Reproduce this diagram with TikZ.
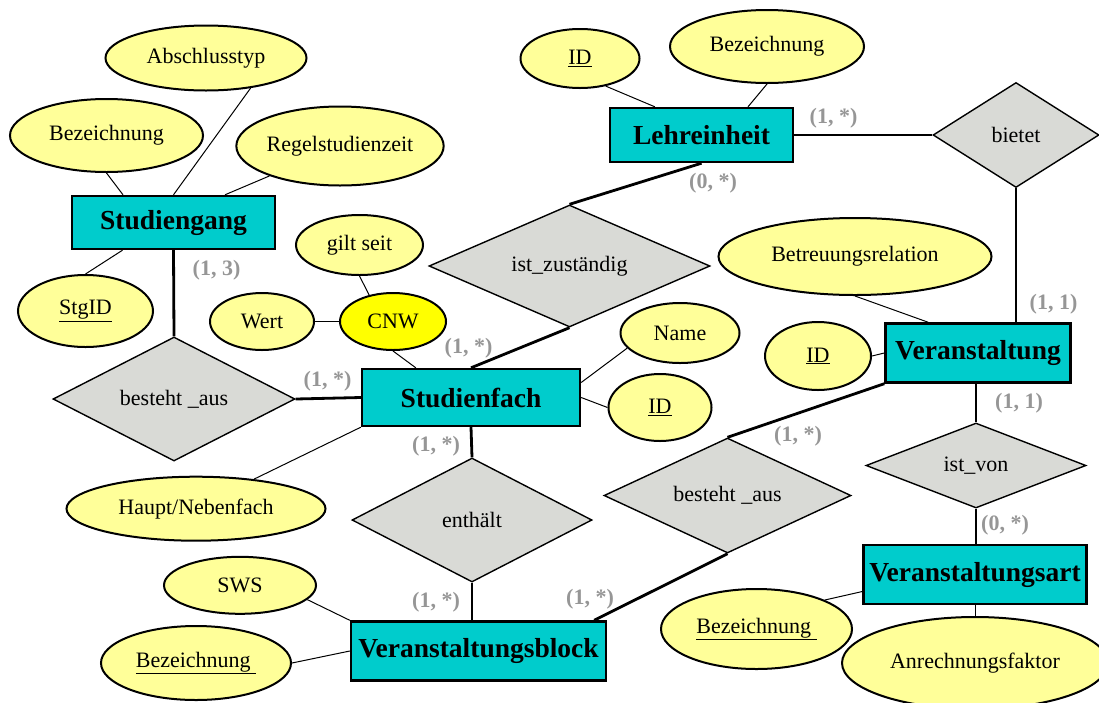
\documentclass[tikz,border=0pt]{standalone}
\usepackage{fontspec}
\setmainfont{Liberation Serif}
\usetikzlibrary{shapes.geometric,calc}
\definecolor{entfill}{RGB}{0,204,204}
\definecolor{attfill}{RGB}{255,255,153}
\definecolor{keyfill}{RGB}{255,255,0}
\definecolor{relfill}{RGB}{217,218,214}
\definecolor{cardgray}{RGB}{150,150,150}

\begin{document}
\begin{tikzpicture}[x=1pt,y=-1pt,
  entity/.style={draw=black, line width=2.4pt, fill=entfill, rectangle, inner sep=0pt,
    font=\fontsize{27.5}{30}\selectfont\bfseries},
  attr/.style={draw=black, line width=2pt, fill=attfill, ellipse, inner sep=0pt,
    font=\fontsize{22}{26}\selectfont},
  rel/.style={draw=black, line width=1.4pt, fill=relfill, diamond, aspect=2, inner sep=0pt,
    font=\fontsize{22}{26}\selectfont},
  card/.style={text=cardgray, font=\fontsize{22}{25}\selectfont\bfseries, inner sep=0pt},
  link/.style={line width=1pt},
  rlink/.style={line width=2.8pt},
]
\path[use as bounding box] (0,0) rectangle (1099,702);
\clip (0,0) rectangle (1099,702);

% entities
\node[entity, minimum width=203pt, minimum height=53pt] (stg)  at (173.5,222.5) {Studiengang};
\node[entity, minimum width=183pt, minimum height=54pt] (le)   at (701.5,135)   {Lehreinheit};
\node[entity, minimum width=218pt, minimum height=57pt] (sf)   at (471,397.5)   {Studienfach};
\node[entity, minimum width=185pt, minimum height=59pt] (ver)  at (978,353)     {Veranstaltung};
\node[entity, minimum width=255pt, minimum height=59pt] (vb)   at (478.5,651)   {Veranstaltungsblock};
\node[entity, minimum width=223pt, minimum height=59pt] (vart) at (975,574.5)   {Veranstaltungsart};

% relationships
\node[rel, minimum width=242pt, minimum height=124pt] (ba1) at (174,399)    {besteht \_aus};
\node[rel, minimum width=281pt, minimum height=122pt] (iz)  at (569.5,266)  {ist\_zuständig};
\node[rel, minimum width=166pt, minimum height=105pt] (bi)  at (1016,135)   {bietet};
\node[rel, minimum width=240pt, minimum height=124pt] (ent) at (472,520)    {enthält};
\node[rel, minimum width=247pt, minimum height=115pt] (ba2) at (727.5,495.5){besteht \_aus};
\node[rel, minimum width=220pt, minimum height=85pt]  (iv)  at (976,465.5)  {ist\_von};

% attributes
\node[attr, minimum width=201pt, minimum height=65pt] (abs)   at (206,58)     {Abschlusstyp};
\node[attr, minimum width=193pt, minimum height=73pt] (bezsg) at (106.5,135.5){Bezeichnung};
\node[attr, minimum width=206pt, minimum height=79pt] (regel) at (340,146)    {Regelstudienzeit};
\node[attr, minimum width=135pt, minimum height=72pt] (stgid) at (85.5,311)   {\underline{StgID}};
\node[attr, minimum width=127pt, minimum height=60pt] (gilt)  at (359.5,245)  {gilt seit};
\node[attr, minimum width=104pt, minimum height=57pt] (wert)  at (262,321.5)  {Wert};
\node[attr, fill=keyfill, minimum width=106pt, minimum height=57pt] (cnw) at (393,321.5) {CNW};
\node[attr, minimum width=259pt, minimum height=64pt] (hn)    at (196,508.7)  {Haupt/Nebenfach};
\node[attr, minimum width=152pt, minimum height=57pt] (sws)   at (240,585.3)  {SWS};
\node[attr, minimum width=190pt, minimum height=74pt] (bezvb) at (196,663)    {\underline{Bezeichnung\ }};
\node[attr, minimum width=119pt, minimum height=59pt] (idle)  at (580,58.5)   {\underline{ID}};
\node[attr, minimum width=194pt, minimum height=73pt] (bezle) at (767,46.5)   {Bezeichnung};
\node[attr, minimum width=273pt, minimum height=77pt] (betr)  at (855,256.5)  {Betreuungsrelation};
\node[attr, minimum width=119pt, minimum height=60pt] (name)  at (680,333)    {Name};
\node[attr, minimum width=103pt, minimum height=67pt] (idsf)  at (660,407.5)  {\underline{ID}};
\node[attr, minimum width=106pt, minimum height=68pt] (idver) at (818,356)    {\underline{ID}};
\node[attr, minimum width=191pt, minimum height=80pt] (bezva) at (756.5,629)  {\underline{Bezeichnung\ }};
\node[attr, minimum width=266pt, minimum height=92pt] (anr)   at (975,663)    {Anrechnungsfaktor};

% attribute links
\draw[link] (bezsg.south) -- ($(stg.north)+(-50.5,0)$);
\draw[link] (abs.-34) -- (stg.north);
\draw[link] (regel.-157) -- ($(stg.north)+(51.5,0)$);
\draw[link] (stgid.north) -- ($(stg.south)+(-51,0)$);
\draw[link] (gilt.south) -- (cnw.132);
\draw[link] (wert.east) -- (cnw.west);
\draw[link] (cnw.south) -- ($(sf.north west)+(55,0)$);
\draw[link] (hn.27) -- (sf.south west);
\draw[link] (sws.-12) -- (vb.north west);
\draw[link] (bezvb.east) -- (vb.west);
\draw[link] (idle.-47) -- ($(le.north west)+(46,0)$);
\draw[link] (bezle.south) -- ($(le.north)+(46.5,0)$);
\draw[link] (betr.south) -- ($(ver.north west)+(44,0)$);
\draw[link] (idver.east) -- (ver.west);
\draw[link] (name.-164) -- ($(sf.east)+(0,-15)$);
\draw[link] (idsf.west) -- (sf.east);
\draw[link] (bezva.23) -- ($(vart.west)+(0,17)$);
\draw[link] (anr.north) -- (anr.north |- vart.south);

% relationship links
\draw[rlink] (stg.south) -- (ba1.north);
\draw[rlink] (ba1.east) -- (sf.west);
\draw[rlink] (iz.south) -- (sf.north);
\draw[rlink] (iz.north) -- (le.south);
\draw[rlink] (le.east) -- (bi.west);
\draw[rlink] (bi.south) -- (bi.south |- ver.north);
\draw[rlink] (sf.south) -- (ent.north);
\draw[rlink] (ent.south) -- (ent.south |- vb.north);
\draw[rlink] (ver.south west) -- (ba2.north);
\draw[rlink] (ba2.south) -- ($(vb.north east)+(-13,0)$);
\draw[rlink] (iv.north |- ver.south) -- (iv.north);
\draw[rlink] (iv.south) -- (iv.south |- vart.north);

% cardinalities
\node[card] (c1)  at (216.5,270)  {(1, 3)};
\node[card] (c2)  at (327.5,381)  {(1, *)};
\node[card] (c3)  at (468.5,348)  {(1, *)};
\node[card] (c4)  at (713,183)    {(0, *)};
\node[card] (c5)  at (833.5,118)  {(1, *)};
\node[card] (c6)  at (1053.5,304) {(1, 1)};
\node[card] (c7)  at (436,446.5)  {(1, *)};
\node[card] (c8)  at (436,602.5)  {(1, *)};
\node[card] (c9)  at (798,436.5)  {(1, *)};
\node[card] (c10) at (1019,403)   {(1, 1)};
\node[card] (c11) at (1005,525)   {(0, *)};
\node[card] (c12) at (590,599)    {(1, *)};
\end{tikzpicture}
\end{document}
